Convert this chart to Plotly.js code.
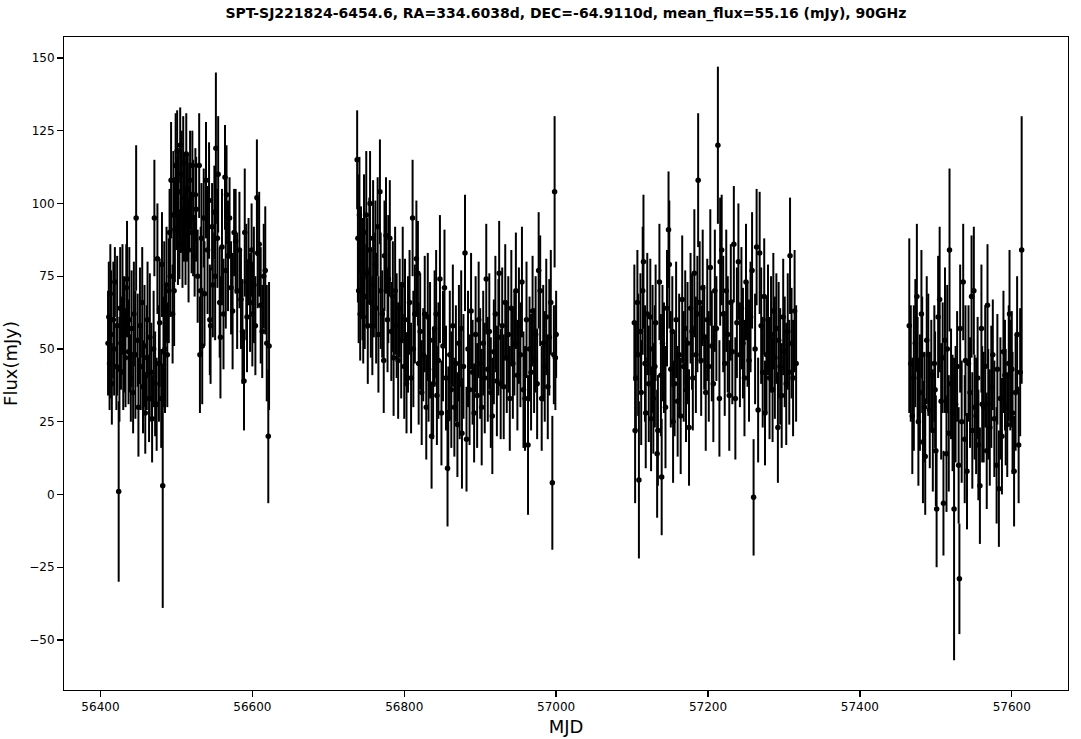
<!DOCTYPE html>
<html>
<head>
<meta charset="utf-8">
<script src="https://cdn.plot.ly/plotly-3.0.1.min.js"></script>
<style>html,body{margin:0;padding:0;background:#fff;}#chart{width:1081px;height:739px;}</style>
</head>
<body>
<div id="chart"></div>
<script>
// Season 1
const mjd1 = [56410,56411,56412,56413,56414,56415,56417,56418,56419,56421,56422,56424,56425,56426,56427,56429,56430,56431,56433,56434,56435,56437,56438,56440,56441,56443,56444,56446,56447,56449,56450,56452,56453,56455,56456,56458,56459,56461,56462,56464,56465,56467,56468,56470,56471,56472,56474,56475,56477,56478,56480,56481,56482,56483,56484,56485,56487,56488,56490,56491,56492,56493,56495,56496,56497,56498,56499,56500,56501,56502,56503,56504,56505,56506,56507,56508,56509,56510,56511,56512,56513,56514,56515,56516,56517,56518,56520,56521,56522,56524,56525,56526,56528,56530,56531,56532,56533,56534,56536,56537,56539,56541,56543,56544,56545,56547,56548,56550,56551,56552,56554,56555,56557,56558,56560,56562,56564,56565,56566,56568,56570,56572,56574,56576,56578,56580,56583,56585,56587,56589,56590,56592,56593,56595,56597,56599,56600,56602,56604,56606,56607,56609,56611,56613,56615,56617,56619,56621,56622];
const flux1 = [52,61,45,69,55,38,60,50,73,44,58,1,43,64,52,67,42,55,47,71,74,49,60,40,57,35,62,48,95,53,30,58,44,66,37,51,28,47,60,33,54,42,26,50,95,38,31,81,45,59,33,79,3,49,66,50,72,48,70,90,75,108,62,96,70,91,113,100,118,92,104,86,120,97,110,85,114,93,102,89,117,96,105,84,99,108,90,113,95,82,103,98,75,113,48,70,88,51,95,69,108,84,101,60,58,92,72,97,75,119,88,110,66,54,85,62,109,77,103,82,95,71,63,90,87,70,84,67,56,39,90,73,61,80,66,84,62,72,58,102,83,86,65,56,75,77,52,20,51];
const err1 = [18,19,16,17,22,14,20,16,12,15,24,31,18,21,16,19,13,20,17,15,20,18,25,15,20,14,18,22,25,16,17,20,15,19,16,21,14,18,20,15,22,17,15,20,20,18,16,19,20,22,17,18,42,19,21,22,20,18,18,15,14,20,17,22,19,18,18,16,14,20,15,12,13,14,15,14,16,13,15,17,14,16,12,18,15,17,14,12,20,14,16,18,16,18,20,22,19,20,17,18,20,22,20,19,20,15,18,16,22,26,17,20,19,21,20,19,18,20,17,19,14,16,20,15,18,20,20,17,18,17,22,20,19,15,17,16,18,20,17,20,19,18,20,16,18,22,20,23,22];

// Season 2
const mjd2 = [56738,56739,56740,56741,56742,56743,56745,56746,56747,56748,56750,56751,56752,56754,56755,56756,56758,56759,56760,56762,56763,56765,56766,56768,56769,56771,56773,56774,56776,56778,56779,56781,56783,56785,56786,56788,56790,56792,56794,56796,56798,56800,56801,56803,56805,56807,56809,56811,56812,56814,56816,56818,56819,56821,56823,56825,56827,56829,56831,56832,56834,56836,56838,56840,56842,56843,56845,56847,56849,56851,56853,56855,56857,56858,56860,56862,56864,56866,56868,56870,56872,56873,56875,56876,56878,56880,56882,56884,56886,56888,56890,56892,56894,56896,56898,56900,56902,56904,56906,56908,56910,56912,56914,56916,56918,56920,56922,56924,56925,56927,56929,56931,56933,56935,56937,56939,56941,56943,56945,56947,56949,56951,56953,56955,56957,56959,56961,56963,56965,56967,56969,56971,56973,56975,56977,56979,56981,56983,56985,56987,56989,56991,56993,56995,56997,56998,56999,57000];
const flux2 = [115,88,70,96,62,80,74,61,90,68,96,76,58,84,100,66,58,88,72,79,64,92,55,104,70,62,46,82,89,60,74,88,56,68,47,70,58,46,64,53,72,44,60,38,55,66,40,95,50,62,81,76,45,56,35,48,62,30,61,43,53,20,38,57,62,34,46,74,28,51,71,40,9,26,48,36,58,30,45,24,52,38,57,21,44,83,19,50,36,63,42,28,55,34,60,45,30,52,40,74,43,56,35,27,49,62,39,54,76,38,58,37,66,47,55,33,64,45,52,70,41,58,48,73,36,33,60,17,50,42,63,46,55,38,77,70,33,52,44,61,37,54,66,4,48,104,47,55];
const err2 = [17,22,18,20,16,19,21,16,20,18,22,19,20,18,18,19,17,20,18,22,19,17,20,18,20,15,18,19,20,18,22,20,17,19,20,22,18,20,17,20,20,18,21,17,20,18,19,20,20,17,20,18,21,20,18,16,20,18,22,18,20,18,19,20,22,17,20,22,18,19,20,18,20,18,22,20,21,17,20,18,20,19,20,19,18,20,18,20,19,20,18,17,20,18,20,19,20,18,19,19,18,20,19,20,18,20,19,20,18,19,20,18,20,19,20,18,20,19,18,20,19,20,18,19,20,18,20,24,18,20,19,18,20,19,20,19,18,20,19,20,18,20,18,23,17,26,18,15];

// Season 3
const mjd3 = [57103,57104,57105,57107,57108,57109,57111,57112,57114,57115,57117,57118,57120,57122,57124,57125,57127,57128,57130,57131,57133,57134,57136,57138,57139,57140,57142,57144,57146,57148,57149,57151,57153,57154,57156,57158,57160,57162,57164,57166,57168,57170,57171,57173,57175,57177,57179,57180,57182,57184,57186,57187,57189,57191,57193,57195,57197,57199,57201,57203,57205,57207,57209,57211,57213,57215,57216,57218,57220,57222,57224,57226,57228,57230,57232,57234,57236,57238,57240,57242,57244,57246,57248,57250,57252,57254,57256,57258,57260,57262,57264,57266,57268,57270,57272,57274,57275,57277,57279,57281,57283,57285,57286,57288,57290,57292,57293,57295,57297,57299,57301,57303,57305,57307,57308,57310,57312,57314,57316];
const flux3 = [59,22,40,66,48,5,56,35,70,80,45,28,62,38,61,26,50,33,44,59,14,22,73,41,6,52,47,30,64,91,79,43,56,25,38,60,32,48,27,67,44,57,36,52,23,64,56,40,76,48,62,108,66,46,71,54,35,60,44,78,51,38,70,57,120,33,80,84,62,45,70,55,34,66,49,86,33,59,80,48,64,52,40,73,55,46,61,77,-1,50,85,29,83,58,42,68,28,48,60,40,55,36,63,47,57,23,53,44,34,61,49,38,56,42,82,52,40,63,45];
const err3 = [20,25,19,18,21,27,20,18,22,23,20,19,21,20,20,18,22,19,21,20,22,19,20,21,20,20,19,21,20,20,22,20,19,21,18,20,19,21,20,22,19,20,18,21,20,19,20,18,22,20,20,23,21,19,20,18,20,21,19,20,19,20,21,18,27,20,22,19,20,18,21,20,19,20,18,20,21,19,20,18,21,19,20,20,18,21,19,20,20,19,20,18,21,20,19,20,18,20,19,21,20,18,20,21,19,19,20,20,18,20,19,21,20,18,20,19,20,21,20];

// Season 4
const mjd4 = [57465,57467,57469,57471,57473,57475,57476,57477,57479,57481,57482,57483,57485,57486,57488,57490,57492,57494,57496,57498,57499,57500,57501,57503,57505,57507,57509,57510,57512,57514,57515,57517,57518,57520,57522,57524,57526,57528,57530,57531,57532,57534,57536,57538,57539,57541,57543,57545,57547,57548,57550,57551,57553,57555,57556,57558,57560,57561,57563,57565,57567,57568,57569,57571,57573,57575,57577,57580,57581,57583,57585,57587,57589,57591,57592,57594,57596,57597,57598,57600,57601,57603,57605,57607,57609,57611,57613];
const flux4 = [58,45,27,40,52,68,43,25,35,62,48,18,30,13,53,48,29,41,22,45,36,15,-5,61,67,32,47,-3,53,14,50,21,84,38,28,-5,31,44,10,-29,57,25,73,19,46,8,45,35,68,22,70,30,27,40,17,3,57,31,30,44,15,65,31,23,37,48,26,10,43,2,33,20,49,41,30,24,45,62,41,43,28,8,35,55,17,42,84];
const err4 = [30,20,20,25,22,25,18,22,20,22,20,21,19,20,22,21,20,19,21,20,20,19,20,21,25,20,19,18,25,20,22,20,28,19,20,52,20,19,20,19,22,21,20,22,19,20,20,19,21,20,22,18,20,21,19,20,22,20,19,21,20,21,19,20,21,19,20,20,19,20,21,20,21,19,20,18,20,22,19,20,21,19,20,20,20,22,46];

const mjd = mjd1.concat(mjd2, mjd3, mjd4);
const flux = flux1.concat(flux2, flux3, flux4);
const err = err1.concat(err2, err3, err4);

const trace = {
  x: mjd, y: flux, type: 'scatter', mode: 'markers',
  marker: {color: '#000000', size: 5.5},
  error_y: {type: 'data', array: err, visible: true, color: '#000000', thickness: 2, width: 0},
  showlegend: false, hoverinfo: 'x+y'
};

const layout = {
  width: 1081, height: 739,
  margin: {l: 64, r: 13, t: 37, b: 49},
  paper_bgcolor: '#ffffff', plot_bgcolor: '#ffffff',
  font: {family: 'DejaVu Sans, sans-serif', color: '#000000', size: 12},
  title: {
    text: '<b>SPT-SJ221824-6454.6, RA=334.6038d, DEC=-64.9110d, mean_flux=55.16 (mJy), 90GHz</b>',
    font: {family: 'DejaVu Sans, sans-serif', size: 14, color: '#000000'},
    x: 0.5235, xanchor: 'center', y: 0.982, yanchor: 'middle'
  },
  xaxis: {
    range: [56352, 57674], showgrid: false, zeroline: false,
    showline: true, mirror: true, linecolor: '#000000', linewidth: 1,
    ticks: 'outside', ticklen: 6, tickwidth: 1.3, tickcolor: '#000000',
    tickmode: 'array', tickvals: [56400,56600,56800,57000,57200,57400,57600],
    ticktext: ['56400','56600','56800','57000','57200','57400','57600'],
    tickfont: {size: 12},
    title: {text: 'MJD', font: {size: 18}, standoff: 6}
  },
  yaxis: {
    range: [-67.2, 157.2], showgrid: false, zeroline: false,
    showline: true, mirror: true, linecolor: '#000000', linewidth: 1,
    ticks: 'outside', ticklen: 6, tickwidth: 1.3, tickcolor: '#000000',
    tickmode: 'array', tickvals: [-50,-25,0,25,50,75,100,125,150],
    ticktext: ['\u221250','\u221225','0','25','50','75','100','125','150'],
    tickfont: {size: 12},
    title: {text: 'Flux(mJy)', font: {size: 18}, standoff: 8}
  }
};

Plotly.newPlot('chart', [trace], layout, {displayModeBar: false, staticPlot: true});
</script>
</body>
</html>
